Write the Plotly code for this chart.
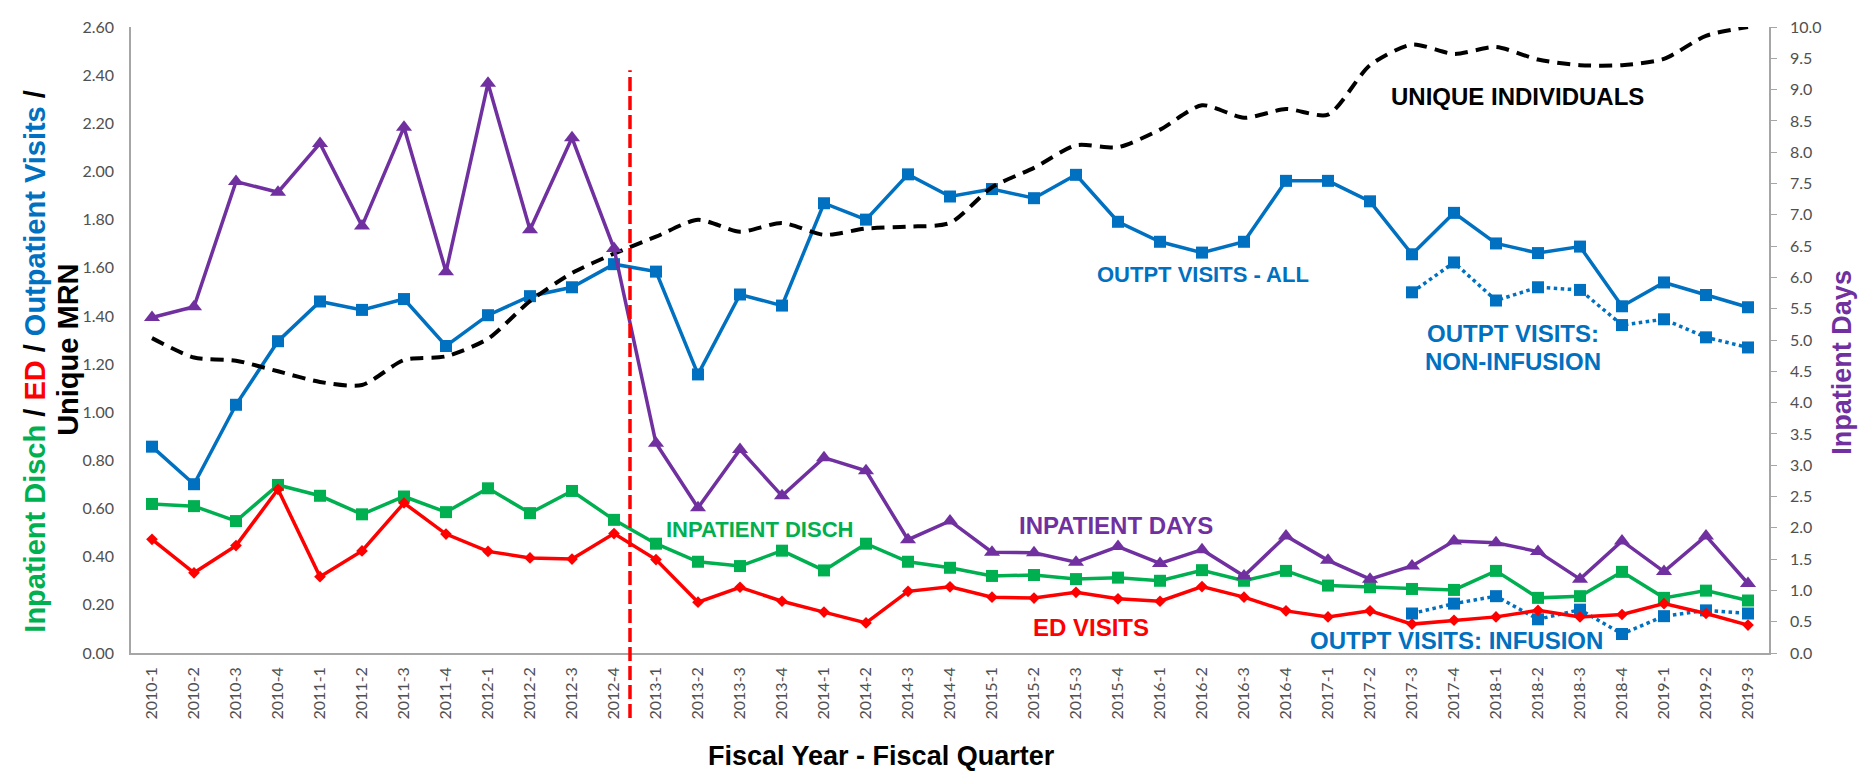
import plotly.graph_objects as go

quarters = [
    "2010-1", "2010-2", "2010-3", "2010-4",
    "2011-1", "2011-2", "2011-3", "2011-4",
    "2012-1", "2012-2", "2012-3", "2012-4",
    "2013-1", "2013-2", "2013-3", "2013-4",
    "2014-1", "2014-2", "2014-3", "2014-4",
    "2015-1", "2015-2", "2015-3", "2015-4",
    "2016-1", "2016-2", "2016-3", "2016-4",
    "2017-1", "2017-2", "2017-3", "2017-4",
    "2018-1", "2018-2", "2018-3", "2018-4",
    "2019-1", "2019-2", "2019-3",
]

# Left axis (per unique MRN)
inpatient_disch = [
    0.619, 0.610, 0.548, 0.698,
    0.653, 0.576, 0.650, 0.585,
    0.684, 0.581, 0.673, 0.553,
    0.454, 0.379, 0.361, 0.425,
    0.343, 0.454, 0.379, 0.354,
    0.320, 0.324, 0.307, 0.313,
    0.300, 0.344, 0.300, 0.341,
    0.280, 0.273, 0.266, 0.262,
    0.341, 0.229, 0.236, 0.337,
    0.229, 0.259, 0.218,
]
ed_visits = [
    0.472, 0.333, 0.446, 0.680,
    0.317, 0.424, 0.623, 0.494,
    0.422, 0.395, 0.390, 0.496,
    0.388, 0.211, 0.273, 0.215,
    0.170, 0.125, 0.256, 0.275,
    0.232, 0.228, 0.252, 0.225,
    0.215, 0.276, 0.232, 0.175,
    0.150, 0.175, 0.120, 0.136,
    0.150, 0.177, 0.150, 0.160,
    0.205, 0.164, 0.116,
]
outpt_all = [
    0.857, 0.701, 1.031, 1.295,
    1.460, 1.425, 1.470, 1.275,
    1.403, 1.482, 1.519, 1.615,
    1.584, 1.157, 1.489, 1.443,
    1.868, 1.800, 1.988, 1.896,
    1.927, 1.889, 1.986, 1.791,
    1.708, 1.663, 1.708, 1.961,
    1.961, 1.876, 1.656, 1.828,
    1.701, 1.661, 1.688, 1.440,
    1.539, 1.487, 1.436,
]
split_quarters = ["2017-3", "2017-4", "2018-1", "2018-2", "2018-3",
                  "2018-4", "2019-1", "2019-2", "2019-3"]
outpt_non_infusion = [1.498, 1.622, 1.464, 1.519, 1.508, 1.362, 1.386, 1.311, 1.269]
outpt_infusion = [0.164, 0.205, 0.236, 0.140, 0.180, 0.079, 0.153, 0.177, 0.164]

# Right axis
inpatient_days = [
    5.36, 5.53, 7.53, 7.36,
    8.14, 6.82, 8.40, 6.09,
    9.10, 6.76, 8.23, 6.46,
    3.35, 2.32, 3.25, 2.51,
    3.12, 2.91, 1.81, 2.11,
    1.61, 1.60, 1.45, 1.70,
    1.43, 1.65, 1.23, 1.87,
    1.48, 1.18, 1.39, 1.79,
    1.76, 1.62, 1.18, 1.79,
    1.30, 1.87, 1.11,
]
unique_individuals = [
    5.03, 4.72, 4.67, 4.50,
    4.33, 4.28, 4.68, 4.74,
    5.02, 5.62, 6.07, 6.38,
    6.65, 6.92, 6.73, 6.87,
    6.68, 6.78, 6.81, 6.87,
    7.44, 7.75, 8.11, 8.08,
    8.36, 8.75, 8.55, 8.69,
    8.60, 9.39, 9.72, 9.57,
    9.68, 9.48, 9.39, 9.39,
    9.49, 9.86, 10.0,
]

left_ticks = [0.0, 0.2, 0.4, 0.6, 0.8, 1.0, 1.2, 1.4, 1.6, 1.8, 2.0, 2.2, 2.4, 2.6]
right_ticks = [0.0, 0.5, 1.0, 1.5, 2.0, 2.5, 3.0, 3.5, 4.0, 4.5, 5.0,
               5.5, 6.0, 6.5, 7.0, 7.5, 8.0, 8.5, 9.0, 9.5, 10.0]

BLUE = "#0070C0"
GREEN = "#00B050"
RED = "#FF0000"
PURPLE = "#7030A0"
AXIS_GRAY = "#A6A6A6"
TICK_COLOR = "#505050"

idx = list(range(len(quarters)))
split_idx = [quarters.index(q) for q in split_quarters]

# page body has an 8px margin: figure sits at (8, 8) in the 1868x778 window
OFF = 8
W, H = 1868 - OFF, 778 - OFF
L, R, T, B = 131 - OFF, 99, 17 - OFF, 125
PW, PH = W - L - R, H - T - B


def px_x(p):
    return (p - OFF - L) / PW


def px_y(p):
    return (H - B - (p - OFF)) / PH


fig = go.Figure()

fig.add_trace(go.Scatter(
    x=idx, y=unique_individuals, yaxis="y2", mode="lines",
    line=dict(color="black", width=4, dash="13px,8px", shape="spline", smoothing=0.7),
    name="Unique Individuals"))

fig.add_trace(go.Scatter(
    x=split_idx, y=outpt_non_infusion, mode="lines+markers",
    line=dict(color=BLUE, width=3.5, dash="dot"),
    marker=dict(symbol="square", size=12, color=BLUE), name="Outpt Non-Infusion"))
fig.add_trace(go.Scatter(
    x=split_idx, y=outpt_infusion, mode="lines+markers",
    line=dict(color=BLUE, width=3.5, dash="dot"),
    marker=dict(symbol="square", size=12, color=BLUE), name="Outpt Infusion"))

fig.add_trace(go.Scatter(
    x=idx, y=outpt_all, mode="lines+markers",
    line=dict(color=BLUE, width=3.5),
    marker=dict(symbol="square", size=12, color=BLUE), name="Outpt Visits All"))

fig.add_trace(go.Scatter(
    x=idx, y=inpatient_disch, mode="lines+markers",
    line=dict(color=GREEN, width=3.5),
    marker=dict(symbol="square", size=12, color=GREEN), name="Inpatient Disch"))

fig.add_trace(go.Scatter(
    x=idx, y=ed_visits, mode="lines+markers",
    line=dict(color=RED, width=3.5),
    marker=dict(symbol="diamond", size=9, color=RED), name="ED Visits"))

fig.add_trace(go.Scatter(
    x=idx, y=inpatient_days, yaxis="y2", mode="lines+markers",
    line=dict(color=PURPLE, width=3.5),
    marker=dict(symbol="triangle-up", size=14, color=PURPLE), name="Inpatient Days"))

# Vertical red dashed divider
fig.add_shape(type="line", xref="paper", yref="paper",
              x0=px_x(630), x1=px_x(630), y0=px_y(719), y1=px_y(61),
              line=dict(color=RED, width=3.5, dash="14px,5px"), layer="above")

TXT = "Liberation Sans, Arial, sans-serif"


def label(text, cx, cy, color, size=24, angle=0):
    fig.add_annotation(text="<b>" + text + "</b>", xref="paper", yref="paper",
                       x=px_x(cx), y=px_y(cy), xanchor="center", yanchor="middle",
                       showarrow=False, textangle=angle,
                       font=dict(family=TXT, size=size, color=color))


label("UNIQUE INDIVIDUALS", 1517, 88, "black", 24)
label("OUTPT VISITS - ALL", 1203, 268, BLUE, 22)
label("OUTPT VISITS:", 1513, 328, BLUE, 24)
label("NON-INFUSION", 1513, 357, BLUE, 24)
label("INPATIENT DISCH", 759, 528, GREEN, 22)
label("INPATIENT DAYS", 1116, 523, PURPLE, 24)
label("ED VISITS", 1091, 627, RED, 24)
label("OUTPT VISITS: INFUSION", 1456, 640, BLUE, 24)

# Axis titles
label('<span style="color:%s">Inpatient Disch</span> / <span style="color:%s">ED</span> / '
      '<span style="color:%s">Outpatient Visits</span> /' % (GREEN, RED, BLUE),
      35, 357, "black", 29, -90)
label("Unique MRN", 68, 345, "black", 29, -90)
label("Inpatient Days", 1842, 358, PURPLE, 27, -90)
label("Fiscal Year - Fiscal Quarter", 881, 758, "black", 27)

TICKFONT = dict(family="Lato, sans-serif", size=16, color=TICK_COLOR)

fig.update_layout(
    width=W, height=H,
    margin=dict(l=L, r=R, t=T, b=B),
    paper_bgcolor="white", plot_bgcolor="white",
    showlegend=False,
    xaxis=dict(range=[-0.5, len(quarters) - 0.5], tickmode="array",
               tickvals=idx, ticktext=quarters, tickangle=-90,
               showgrid=False, zeroline=False, showline=True,
               linecolor=AXIS_GRAY, linewidth=1.5, ticks="",
               tickfont=TICKFONT, ticklabelstandoff=6),
    yaxis=dict(range=[0, 2.6], tickmode="array", tickvals=left_ticks,
               ticktext=["%.2f" % v for v in left_ticks],
               showgrid=False, zeroline=False, showline=True,
               linecolor=AXIS_GRAY, linewidth=1.5, ticks="",
               tickfont=TICKFONT, ticklabelstandoff=12,
               ticklabeloverflow="allow"),
    yaxis2=dict(range=[0, 10], overlaying="y", side="right", tickmode="array",
                tickvals=right_ticks, ticktext=["%.1f" % v for v in right_ticks],
                showgrid=False, zeroline=False, showline=True,
                linecolor=AXIS_GRAY, linewidth=1.5, ticks="outside",
                ticklen=6, tickcolor=AXIS_GRAY, tickwidth=1,
                tickfont=TICKFONT, ticklabelstandoff=10,
                ticklabeloverflow="allow"),
)

fig.write_html("out.html")
